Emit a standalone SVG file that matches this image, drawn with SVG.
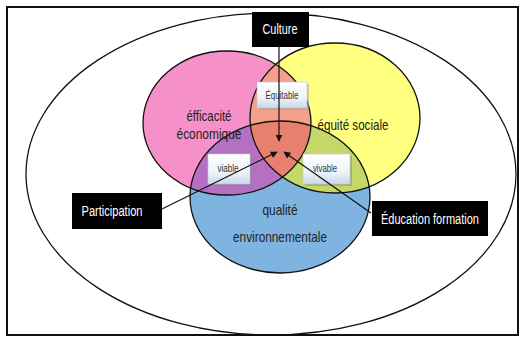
<svg xmlns="http://www.w3.org/2000/svg" width="524" height="338" viewBox="0 0 524 338">
<style>
.lbl{font-family:"Liberation Sans",Arial,sans-serif;fill:#222;text-anchor:middle}
.big{font-size:15px}
.blk{font-family:"Liberation Sans",Arial,sans-serif;fill:#fff;font-size:14px;text-anchor:middle}
.sm{font-family:"Liberation Sans",Arial,sans-serif;fill:#333;font-size:11px;text-anchor:middle}
.ring{fill:none;stroke:#111;stroke-width:1.3}
.conn{stroke:#111;stroke-width:1.2;fill:none}
</style>
<defs>
<ellipse id="eP" cx="227" cy="123" rx="84" ry="72"/>
<ellipse id="eY" cx="335" cy="118" rx="85" ry="75"/>
<ellipse id="eB" cx="280" cy="197" rx="90" ry="76"/>
<clipPath id="cP"><use href="#eP"/></clipPath>
<clipPath id="cY"><use href="#eY"/></clipPath>
<clipPath id="cB"><use href="#eB"/></clipPath>
<linearGradient id="gBox" x1="0" y1="0" x2="0" y2="1">
<stop offset="0" stop-color="#ffffff"/>
<stop offset="0.6" stop-color="#eef4f8"/>
<stop offset="1" stop-color="#c9d8ea"/>
</linearGradient>
<marker id="ah" viewBox="0 0 10 10" refX="9" refY="5" markerWidth="7" markerHeight="7" orient="auto" markerUnits="userSpaceOnUse">
<path d="M0,0 L10,5 L0,10 z" fill="#111"/>
</marker>
</defs>
<rect x="7" y="7" width="511" height="328" fill="#fff" stroke="#111" stroke-width="2"/>
<ellipse class="ring" cx="271" cy="174" rx="245" ry="161"/>
<g id="circles">
<use href="#eP" fill="#f590c8"/>
<use href="#eY" fill="#ffff80"/>
<use href="#eB" fill="#7fb3e0"/>
<g clip-path="url(#cP)"><use href="#eY" fill="#f5a08a"/><use href="#eB" fill="#b570c2"/></g>
<g clip-path="url(#cY)"><use href="#eB" fill="#c3d866"/></g>
<g clip-path="url(#cP)"><g clip-path="url(#cY)"><use href="#eB" fill="#e8806f"/></g></g>
<use href="#eP" class="ring"/>
<use href="#eY" class="ring"/>
<use href="#eB" class="ring"/>
</g>
<g id="n-eco"><text class="lbl big" x="209" y="121" textLength="45" lengthAdjust="spacingAndGlyphs">éfficacité</text><text class="lbl big" x="209" y="139" textLength="65" lengthAdjust="spacingAndGlyphs">économique</text></g>
<g id="n-soc"><text class="lbl big" x="353" y="130" textLength="71" lengthAdjust="spacingAndGlyphs">équité sociale</text></g>
<g id="n-env"><text class="lbl big" x="280" y="215" textLength="35" lengthAdjust="spacingAndGlyphs">qualité</text><text class="lbl big" x="280" y="242" textLength="94" lengthAdjust="spacingAndGlyphs">environnementale</text></g>
<g id="n-equitable"><rect x="259" y="84" width="50" height="26" fill="#999" opacity="0.5"/><rect x="257" y="82" width="50" height="26" fill="url(#gBox)" stroke="#b8c6d6" stroke-width="0.6"/><text class="sm" x="282" y="99" textLength="33" lengthAdjust="spacingAndGlyphs">Équitable</text></g>
<g id="n-viable"><rect x="210" y="156" width="42" height="30" fill="#888" opacity="0.5"/><rect x="208" y="154" width="42" height="30" fill="url(#gBox)" stroke="#b8c6d6" stroke-width="0.6"/><text class="sm" x="228" y="172" textLength="21" lengthAdjust="spacingAndGlyphs">viable</text></g>
<g id="n-vivable"><rect x="305" y="156" width="47" height="30" fill="#888" opacity="0.5"/><rect x="303" y="154" width="47" height="30" fill="url(#gBox)" stroke="#b8c6d6" stroke-width="0.6"/><text class="sm" x="325" y="172" textLength="24" lengthAdjust="spacingAndGlyphs">vivable</text></g>
<g id="connectors">
<line class="conn" x1="279" y1="47" x2="279" y2="141" marker-end="url(#ah)"/>
<line class="conn" x1="162" y1="209" x2="277" y2="152" marker-end="url(#ah)"/>
<line class="conn" x1="371" y1="213" x2="284" y2="152" marker-end="url(#ah)"/>
</g>
<g id="n-culture"><rect x="252" y="12" width="57" height="35" fill="#000"/><text class="blk" x="280" y="34" textLength="35" lengthAdjust="spacingAndGlyphs">Culture</text></g>
<g id="n-participation"><rect x="72" y="193" width="90" height="36" fill="#000"/><text class="blk" x="112" y="216" textLength="61" lengthAdjust="spacingAndGlyphs">Participation</text></g>
<g id="n-education"><rect x="372" y="201" width="116" height="35" fill="#000"/><text class="blk" x="430" y="224" textLength="98" lengthAdjust="spacingAndGlyphs">Éducation formation</text></g>
</svg>
